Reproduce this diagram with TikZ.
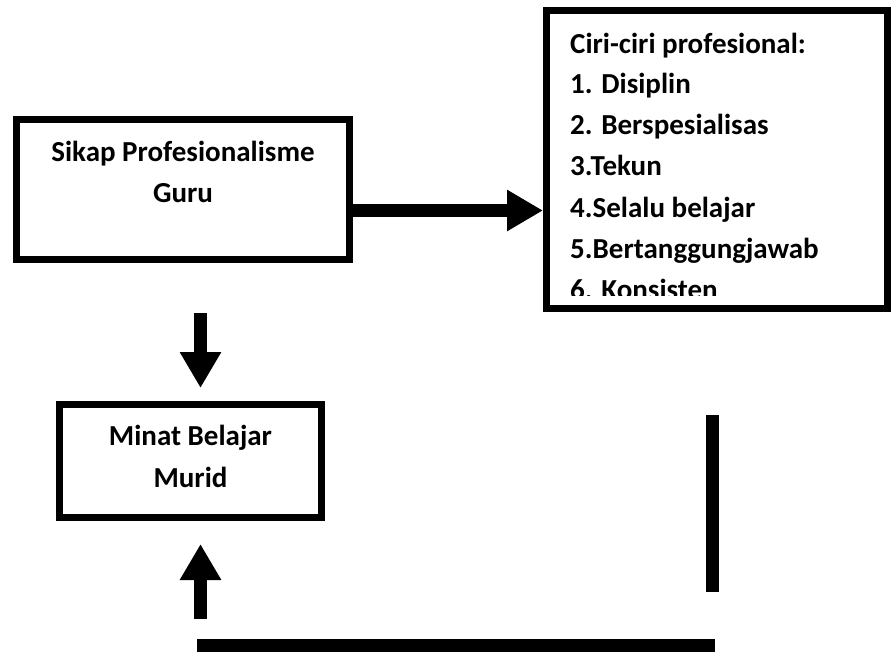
\documentclass[tikz,border=0pt]{standalone}
\usepackage{fontspec}
\setmainfont{Carlito}
\usetikzlibrary{arrows.meta}
\tikzset{
  boxline/.style={draw=black, line width=7pt, fill=white, inner sep=0pt, rectangle},
  txt/.style={font=\fontsize{29}{35}\selectfont\bfseries, inner sep=0pt, anchor=base},
  fatarrow/.style={line width=13pt, -{Triangle[length=36pt, width=39pt]}},
  bar/.style={line width=13pt}
}
\begin{document}
\begin{tikzpicture}[x=1pt, y=-1pt]
\fill[white] (0,0) rectangle (891,651);
\useasboundingbox (0,0) rectangle (891,651);
% boxes
\node[boxline, minimum width=333pt, minimum height=140pt] (b1) at (183,189.5) {};
\node[boxline, minimum width=341pt, minimum height=298pt] (b2) at (717,159.5) {};
\node[boxline, minimum width=262pt, minimum height=113pt] (b3) at (190.5,461) {};
% texts
\node[txt] (t1a) at (183,161) {Sikap Profesionalisme};
\node[txt] (t1b) at (183,202) {Guru};
\node[txt] (t3a) at (190.5,445) {Minat Belajar};
\node[txt] (t3b) at (190.5,487) {Murid};
\begin{scope}
\clip (551,15) rectangle (887,295);
\node[txt, anchor=base west] (c0) at (570,53) {Ciri-ciri profesional:};
\node[txt, anchor=base west] (c1) at (570,93) {1. Disiplin};
\node[txt, anchor=base west] (c2) at (570,134) {2. Berspesialisas};
\node[txt, anchor=base west] (c3) at (570,175) {3.Tekun};
\node[txt, anchor=base west] (c4) at (570,217) {4.Selalu belajar};
\node[txt, anchor=base west] (c5) at (570,258) {5.Bertanggungjawab};
\node[txt, anchor=base west] (c6) at (570,299) {6. Konsisten};
\end{scope}
% connectors
\coordinate (h1) at (353,210.5);
\coordinate (h2) at (543,210.5);
\draw[fatarrow] (h1) -- (h2);
\coordinate (d1) at (200.5,313);
\coordinate (d2) at (200.5,388);
\draw[fatarrow] (d1) -- (d2);
\coordinate (u1) at (200.5,619);
\coordinate (u2) at (200.5,544);
\draw[fatarrow] (u1) -- (u2);
\coordinate (v1) at (712.5,415);
\coordinate (v2) at (712.5,592);
\draw[bar] (v1) -- (v2);
\coordinate (w1) at (197,645);
\coordinate (w2) at (715,645);
\draw[bar] (w1) -- (w2);
\end{tikzpicture}
\end{document}
